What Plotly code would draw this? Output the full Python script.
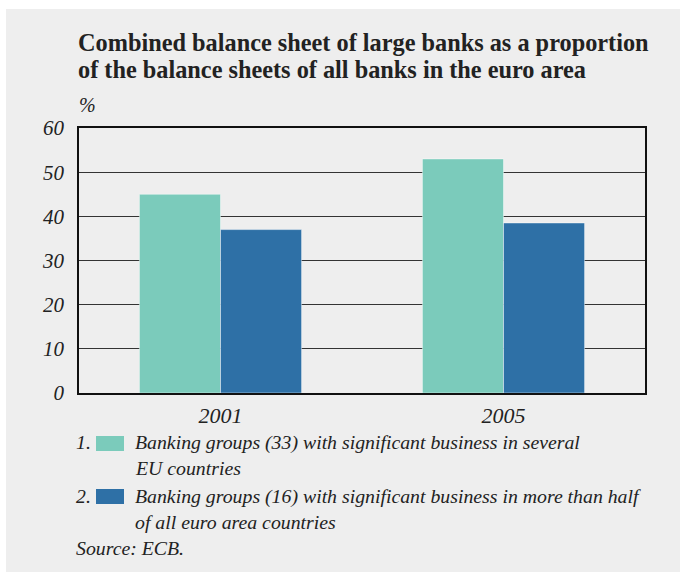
import plotly.graph_objects as go

years = ["2001", "2005"]
series1_name = "Banking groups (33) with significant business in several EU countries"
series2_name = "Banking groups (16) with significant business in more than half of all euro area countries"
series1 = [45, 53]
series2 = [37, 38.5]
yticks = [0, 10, 20, 30, 40, 50, 60]

C1 = "#7bcbbb"
C2 = "#2e70a6"
BG = "#eeeeee"
TXT = "#222222"
SERIF = "'Liberation Serif', 'Times New Roman', Times, 'DejaVu Serif', serif"

W, H = 680, 572
L, R, T, B = 79, 645, 128, 393  # plot area in pixels


def px(x):
    return (x - L) / (R - L)


def py(y):
    return (B - y) / (B - T)


fig = go.Figure()
fig.add_trace(go.Bar(x=years, y=series1, name=series1_name, marker=dict(color=C1, line=dict(color="rgba(255,255,255,0.45)", width=1)), showlegend=False))
fig.add_trace(go.Bar(x=years, y=series2, name=series2_name, marker=dict(color=C2, line=dict(color="rgba(255,255,255,0.45)", width=1)), showlegend=False))

shapes = [
    dict(type="rect", xref="paper", yref="paper", x0=px(6), x1=px(W + 5), y0=py(H + 5), y1=py(9),
         fillcolor=BG, line=dict(width=0), layer="below"),
    dict(type="rect", xref="paper", yref="paper", x0=px(96), x1=px(124), y0=py(451), y1=py(436),
         fillcolor=C1, line=dict(width=0)),
    dict(type="rect", xref="paper", yref="paper", x0=px(96), x1=px(124), y0=py(504), y1=py(489),
         fillcolor=C2, line=dict(width=0)),
]

ann = []


def text(s, x, y, size, anchor="left", bold=False, italic=True):
    ann.append(dict(text=s, xref="paper", yref="paper", x=px(x), y=py(y), xanchor=anchor, yanchor="middle",
                    showarrow=False,
                    font=dict(family=SERIF, size=size, color=TXT, weight="bold" if bold else "normal",
                              style="italic" if italic else "normal")))


FS = 19.8
text("Combined balance sheet of large banks as a proportion", 76, 42, 24.3, bold=True, italic=False)
text("of the balance sheets of all banks in the euro area", 76, 69, 24.3, bold=True, italic=False)
text("%", 77, 105, 20)
text("1.", 74, 442, FS)
text("Banking groups (33) with significant business in several", 133, 442, FS)
text("EU countries", 133, 468, FS)
text("2.", 74, 496, FS)
text("Banking groups (16) with significant business in more than half", 133, 496, FS)
text("of all euro area countries", 133, 522, FS)
text("Source: ECB.", 74, 548, FS)

fig.update_layout(
    width=W, height=H,
    margin=dict(l=L, r=W - R, t=T, b=H - B, pad=0),
    paper_bgcolor="white",
    plot_bgcolor="rgba(0,0,0,0)",
    barmode="group", bargap=0.427, bargroupgap=0,
    shapes=shapes, annotations=ann,
    xaxis=dict(type="category", range=[-0.5, 1.5], showline=True, linecolor="#111111", linewidth=1.5,
               mirror=True, ticks="", showgrid=False, ticklabelstandoff=2,
               tickfont=dict(family=SERIF, size=22, color=TXT, style="italic")),
    yaxis=dict(range=[0, 60], tickvals=yticks, showline=True, linecolor="#111111", linewidth=1.5,
               mirror=True, ticks="", showgrid=True, gridcolor="#333333", gridwidth=1, zeroline=False,
               ticklabelstandoff=9,
               tickfont=dict(family=SERIF, size=21, color=TXT, style="italic")),
)

fig.write_html("out.html")
